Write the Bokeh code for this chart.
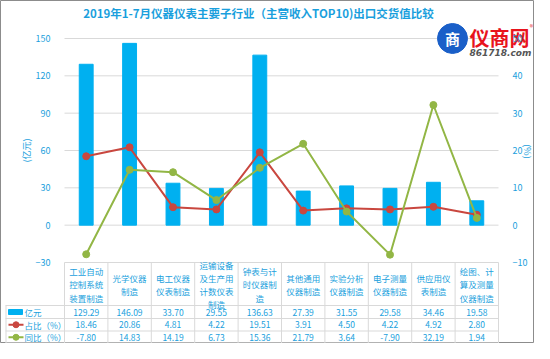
import math
from bokeh.plotting import figure
from bokeh.models import Range1d, LinearAxis, FixedTicker
from bokeh.core.properties import value
from bokeh.embed import file_html
from bokeh.resources import INLINE

# ---------------- data ----------------
categories = ["工业自动\n控制系统\n装置制造", "光学仪器\n制造", "电工仪器\n仪表制造",
              "运输设备\n及生产用\n计数仪表\n制造", "钟表与计\n时仪器制\n造",
              "其他通用\n仪器制造", "实验分析\n仪器制造", "电子测量\n仪器制造",
              "供应用仪\n表制造", "绘图、计\n算及测量\n仪器制造"]
export_value = [129.29, 146.09, 33.70, 29.55, 136.63, 27.39, 31.55, 29.58, 34.46, 19.58]
share_pct = [18.46, 20.86, 4.81, 4.22, 19.51, 3.91, 4.50, 4.22, 4.92, 2.80]
yoy_pct = [-7.80, 14.83, 14.19, 6.73, 15.36, 21.79, 3.64, -7.90, 32.19, 1.94]
left_ticks = [-30, 0, 30, 60, 90, 120, 150]
right_ticks = [-10, 0, 10, 20, 30, 40, 50]
series_names = ["亿元", "占比（%）", "同比（%）"]
title_text = "2019年1-7月仪器仪表主要子行业（主营收入TOP10)出口交货值比较"

# ---------------- styles / layout (pixels) ----------------
FONT = "Noto Sans CJK SC"
TXT = "#1a9fdd"
BAR = "#00b0f0"
RED = "#c9473f"
GREEN = "#92b645"
GRID = "#d9d9d9"

W, H = 534, 343
FRAME_L, FRAME_R = 64, 498          # plot area in canvas pixels
Y_TOP_PX, Y_BOT_PX = 38, 262        # pixel rows of 150 and -30
HEADER_BOT = 305
ROW_LINES = [HEADER_BOT, 318, 330.5, 342.5]
ROW_CENTERS = [311.5, 324.25, 336.75]
LEG_L = 5

n = len(categories)
idx = list(range(n))
ppu = (FRAME_R - FRAME_L) / n                      # pixels per category
x_start = -0.5 - FRAME_L / ppu
x_end = n - 0.5 + (W - FRAME_R) / ppu
ppy = (Y_BOT_PX - Y_TOP_PX) / (left_ticks[-1] - left_ticks[0])
y_end = left_ticks[-1] + Y_TOP_PX / ppy
y_start = left_ticks[0] - (H - Y_BOT_PX) / ppy

p = figure(width=W, height=H, x_range=Range1d(x_start, x_end), y_range=Range1d(y_start, y_end),
           output_backend="svg", toolbar_location=None, x_axis_location=None,
           min_border_left=0, min_border_right=0, min_border_top=0, min_border_bottom=0)
p.extra_y_ranges = {"pct": Range1d(y_start / 3, y_end / 3), "row": Range1d(H, 0)}
p.extra_x_ranges = {"px": Range1d(0, W)}
p.outline_line_color = "#8c8c8c"
p.outline_line_width = 1
p.grid.visible = False

# axes
ya = p.yaxis[0]
ya.ticker = FixedTicker(ticks=left_ticks)
ya.fixed_location = -0.5
ya.bounds = (left_ticks[0], left_ticks[-1])
ya.axis_label = "(亿元)"
ya.axis_label_standoff = 0
ra = LinearAxis(y_range_name="pct", ticker=FixedTicker(ticks=right_ticks),
                fixed_location=n - 0.5, bounds=(right_ticks[0], right_ticks[-1]))
p.add_layout(ra, "right")
for ax in (ya, ra):
    ax.axis_line_color = None
    ax.major_tick_line_color = None
    ax.minor_tick_line_color = None
    ax.major_label_text_color = TXT
    ax.major_label_text_font = FONT
    ax.major_label_text_font_size = "9px"
    ax.major_label_standoff = 8
    ax.axis_label_text_color = TXT
    ax.axis_label_text_font = FONT
    ax.axis_label_text_font_size = "9px"
    ax.axis_label_text_font_style = "normal"

# right axis title
p.text(x=[527], y=[(Y_TOP_PX + Y_BOT_PX) / 2 + 1], text=["(%)"], x_range_name="px",
       y_range_name="row", angle=-math.pi / 2, text_font=value(FONT), text_font_size="9px",
       text_color=TXT, text_align="center", text_baseline="middle")

# gridlines (at tick values, across the plot area)
p.segment(x0=[-0.5] * len(left_ticks), y0=left_ticks, x1=[n - 0.5] * len(left_ticks),
          y1=left_ticks, line_color=GRID, line_width=1)

# series
p.vbar(x=idx, top=export_value, bottom=0, width=0.32, color=BAR)
p.line(x=idx, y=share_pct, y_range_name="pct", line_color=RED, line_width=2)
p.scatter(x=idx, y=share_pct, y_range_name="pct", size=7, color=RED)
p.line(x=idx, y=yoy_pct, y_range_name="pct", line_color=GREEN, line_width=2)
p.scatter(x=idx, y=yoy_pct, y_range_name="pct", size=7, color=GREEN)

# title
p.text(x=[258], y=[12], text=[title_text], x_range_name="px", y_range_name="row",
       text_font=value(FONT), text_font_size="11.5px", text_font_style="bold",
       text_color=TXT, text_align="center", text_baseline="middle")

# logo
p.scatter(x=[452], y=[38], x_range_name="px", y_range_name="row", size=30,
          color="#1a5fc8")
p.text(x=[452], y=[38], text=["商"], x_range_name="px", y_range_name="row",
       text_font=value(FONT), text_font_size="15px", text_font_style="bold",
       text_color="white", text_align="center", text_baseline="middle")
p.text(x=[469], y=[37], text=["仪商网"], x_range_name="px", y_range_name="row",
       text_font=value(FONT), text_font_size="20px", text_font_style="bold",
       text_color="#e8131c", text_align="left", text_baseline="middle")
p.text(x=[531], y=[26], text=["®"], x_range_name="px", y_range_name="row",
       text_font=value(FONT), text_font_size="7px", text_color="#e8131c",
       text_align="center", text_baseline="middle")
p.text(x=[469], y=[52], text=["861718.com"], x_range_name="px", y_range_name="row",
       text_font=value("DejaVu Sans"), text_font_size="9px", text_font_style="bold italic",
       text_color="#555555", text_align="left", text_baseline="middle")

# ---------------- data table ----------------
col_lines = [i - 0.5 for i in range(n + 1)]
p.segment(x0=col_lines, y0=[Y_BOT_PX] * len(col_lines), x1=col_lines, y1=[H] * len(col_lines),
          y_range_name="row", line_color=GRID, line_width=1)
p.segment(x0=[LEG_L + 0.5], y0=[HEADER_BOT], x1=[LEG_L + 0.5], y1=[H], x_range_name="px",
          y_range_name="row", line_color=GRID, line_width=1)
p.segment(x0=[LEG_L] * len(ROW_LINES), y0=ROW_LINES, x1=[FRAME_R] * len(ROW_LINES), y1=ROW_LINES,
          x_range_name="px", y_range_name="row", line_color=GRID, line_width=1)

p.text(x=idx, y=[(Y_BOT_PX + HEADER_BOT) / 2 + 0.5] * n, text=categories, y_range_name="row",
       text_font=value(FONT), text_font_size="8.5px", text_color=TXT,
       text_align="center", text_baseline="middle", text_line_height=1.1)
for series, yc in zip([export_value, share_pct, yoy_pct], ROW_CENTERS):
    p.text(x=idx, y=[yc] * n, text=[f"{v:.2f}" for v in series], y_range_name="row",
           text_font=value(FONT), text_font_size="8.5px", text_color=TXT,
           text_align="center", text_baseline="middle")

# legend keys in the table
p.quad(left=[LEG_L + 3], right=[LEG_L + 17], bottom=[ROW_CENTERS[0] + 2.5],
       top=[ROW_CENTERS[0] - 2.5], x_range_name="px", y_range_name="row", color=BAR)
p.segment(x0=[LEG_L + 3] * 2, y0=ROW_CENTERS[1:], x1=[LEG_L + 18] * 2, y1=ROW_CENTERS[1:],
          x_range_name="px", y_range_name="row", line_color=[RED, GREEN], line_width=2)
p.scatter(x=[LEG_L + 10.5] * 2, y=ROW_CENTERS[1:], x_range_name="px", y_range_name="row",
          size=6, color=[RED, GREEN])
p.text(x=[LEG_L + 19] * 3, y=ROW_CENTERS, text=series_names, x_range_name="px",
       y_range_name="row", text_font=value(FONT), text_font_size="8.5px", text_color=TXT,
       text_align="left", text_baseline="middle")

open("out.html", "w").write(file_html(p, INLINE))
